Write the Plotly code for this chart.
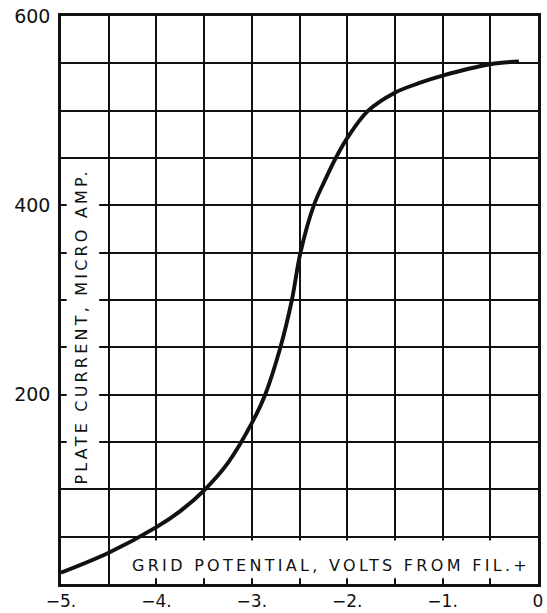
import plotly.graph_objects as go

# Plate current vs. grid potential (characteristic curve)
grid_volts = [-5.0, -4.5, -4.0, -3.75, -3.5, -3.25, -3.0, -2.86, -2.7, -2.58,
              -2.49, -2.35, -2.24, -2.12, -2.0, -1.78, -1.5, -1.25, -1.0, -0.5, -0.2]
plate_current = [12, 33, 60, 77, 99, 128, 170, 200, 250, 300,
                 350, 400, 425, 450, 471, 500, 519, 529, 537, 549, 552]

x_grid = [-5.0 + 0.5 * i for i in range(11)]
x_labels = {-5.0: "\u22125.", -4.0: "\u22124.", -3.0: "\u22123.",
            -2.0: "\u22122.", -1.0: "\u22121.", 0.0: "0"}
y_grid = [50 * i for i in range(13)]
y_labels = {200: "200", 400: "400", 600: "600"}

x_title = "GRID POTENTIAL, VOLTS FROM FIL.+"
y_title = "PLATE CURRENT, MICRO AMP."

INK = "#111111"
FONT = "DejaVu Sans"

fig = go.Figure()
fig.add_trace(go.Scatter(
    x=grid_volts, y=plate_current, mode="lines",
    line=dict(color=INK, width=3.9, shape="spline", smoothing=1.0),
    hoverinfo="skip", showlegend=False,
))

# white panels behind the in-plot axis titles (hide grid, keep the curve on top)
fig.add_shape(type="rect", x0=-4.4, x1=-0.04, y0=6, y1=46,
              fillcolor="white", line=dict(width=0), layer="between")
fig.add_shape(type="rect", x0=-4.94, x1=-4.6, y0=104, y1=446,
              fillcolor="white", line=dict(width=0), layer="between")

fig.add_annotation(
    x=-2.17, y=20, xref="x", yref="y", showarrow=False,
    text=f'<span style="letter-spacing:3.3px">{x_title}</span>',
    font=dict(family=FONT, size=16, color=INK),
)
fig.add_annotation(
    x=-4.79, y=272, xref="x", yref="y", showarrow=False, textangle=-90,
    text=f'<span style="letter-spacing:3.2px">{y_title}</span>',
    font=dict(family=FONT, size=16, color=INK),
)

fig.update_xaxes(
    range=[-5, 0], tickmode="array", tickvals=x_grid,
    ticktext=[x_labels.get(v, "") for v in x_grid],
    showgrid=True, gridcolor=INK, gridwidth=1.9,
    showline=True, linecolor=INK, linewidth=2.6, mirror=True,
    zeroline=False, ticks="", ticklabelstandoff=0, automargin=False,
    tickfont=dict(family=FONT, size=17, color=INK),
)
fig.update_yaxes(
    range=[0, 600], tickmode="array", tickvals=y_grid,
    ticktext=[y_labels.get(v, "") for v in y_grid],
    showgrid=True, gridcolor=INK, gridwidth=1.9,
    showline=True, linecolor=INK, linewidth=2.6, mirror=True,
    zeroline=False, ticks="", ticklabelstandoff=4, automargin=False,
    tickfont=dict(family=FONT, size=19, color=INK),
)

fig.update_layout(
    width=547, height=613,
    margin=dict(l=61, r=9, t=16, b=29),
    paper_bgcolor="white", plot_bgcolor="white",
    showlegend=False,
)

fig.write_html("out.html")
